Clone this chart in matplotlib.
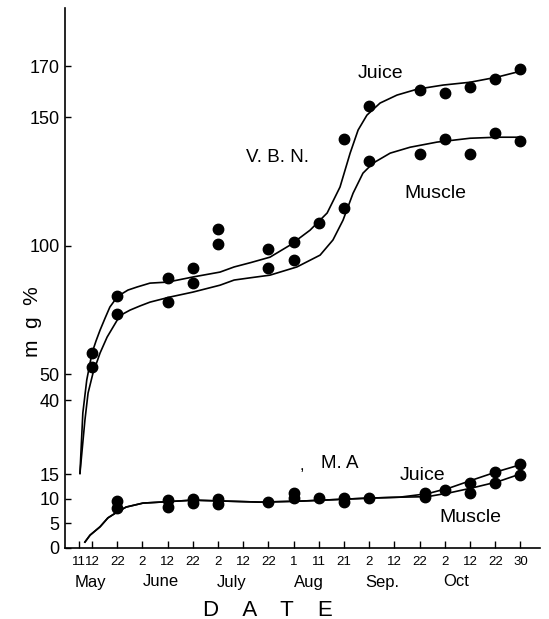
import numpy as np
import matplotlib
matplotlib.use("Agg")
import matplotlib.pyplot as plt
from matplotlib.transforms import blended_transform_factory

plt.rcParams['font.family'] = ['Liberation Sans', 'DejaVu Sans']

# date axis: day of year for each tick, with its label
tick_days = [131, 132, 142, 153, 163, 173, 183, 193, 203, 213, 223, 233, 245, 255, 265, 275, 285, 295, 303]
tick_labels = ["11", "12", "22", "2", "12", "22", "2", "12", "22", "1", "11", "21", "2", "12", "22", "2", "12", "22", "30"]
months = ["May", "June", "July", "Aug", "Sep.", "Oct"]
month_days = [131.9, 160.2, 188.6, 219, 250, 279.4]

# V.B.N. measured points (mg %)
vbn_juice_days = [132, 142, 163, 173, 183, 203, 213, 223, 233, 245, 265, 275, 285, 295, 303]
vbn_juice = [58.3, 80.5, 87.5, 91.4, 106.5, 98.8, 101.5, 108.9, 141.6, 154.4, 160.6, 159.5, 161.8, 164.9, 168.8]
vbn_muscle_days = [132, 142, 163, 173, 183, 203, 213, 233, 245, 265, 275, 285, 295, 303]
vbn_muscle = [52.8, 73.5, 78.1, 85.5, 100.7, 91.4, 94.5, 114.7, 133.0, 135.7, 141.6, 135.7, 143.9, 140.8]

# V.B.N. hand-drawn curves
vbn_juice_curve_days = [131.08, 131.3, 131.6, 132, 133.6, 135.2, 137.2, 139.1, 141.1, 143.2, 146.7, 150.7,
                        156, 163, 173.1, 183.8, 189.4, 196, 203.6, 211.6, 219.5, 226.3, 231.4, 235.9,
                        239.7, 243.9, 249.3, 256, 264, 274.3, 285, 295.6, 303]
vbn_juice_curve = [15.2, 35.6, 47.8, 58.3, 63.0, 67.2, 71.9, 76.2, 78.9, 80.9, 82.8, 84.0,
                   85.5, 85.9, 87.9, 89.8, 91.8, 93.5, 95.6, 100.3, 106.1, 112.8, 122.9, 136.1,
                   145.1, 150.9, 155.6, 158.7, 161.0, 162.6, 163.7, 165.7, 168.0]
vbn_muscle_curve_days = [131.08, 131.46, 131.7, 132.4, 135.2, 138, 142, 144.5, 147.6, 151.9, 156, 164,
                         173, 183.8, 189.4, 196, 203.6, 214.3, 223.5, 228.6, 232.6, 237.3, 242, 246.5,
                         253.3, 261.2, 271.9, 285, 295.6, 303]
vbn_muscle_curve = [15.2, 33.2, 42.7, 50.5, 58.3, 64.5, 71.1, 73.5, 75.0, 76.6, 78.1, 80.1,
                    82.0, 84.7, 86.7, 87.6, 88.6, 91.8, 96.4, 102.3, 110.0, 120.5, 128.3, 132.2,
                    136.1, 138.4, 140.4, 141.9, 142.3, 142.3]

# M.A measured points
ma_juice_days = [142, 163, 173, 183, 203, 213, 223, 233, 245, 267, 275, 285, 295, 303]
ma_juice = [9.5, 9.7, 9.9, 9.9, 9.3, 11.2, 10.1, 10.1, 10.1, 11.2, 11.8, 13.2, 15.6, 18.3]
ma_muscle_days = [142, 163, 173, 183, 213, 233, 267, 285, 295, 303]
ma_muscle = [8.1, 8.3, 9.1, 8.9, 10.1, 9.3, 10.3, 11.2, 13.2, 14.8]

# M.A curves
ma_juice_curve_days = [131.46, 131.85, 135.2, 138.3, 142, 145.9, 153.2, 160, 173, 199.7, 215.5, 244, 257,
                       268, 277, 286, 295.6, 303.5]
ma_juice_curve = [1.2, 2.6, 4.3, 6.1, 7.3, 8.3, 9.1, 9.3, 9.7, 9.3, 9.5, 10.1, 10.3,
                  11.0, 12.2, 13.8, 15.8, 18.3]
ma_muscle_curve_days = [131.46, 131.85, 135.2, 138.3, 142, 145.9, 153.2, 160, 173, 199.7, 215.5, 244, 257,
                        268, 277, 286, 295.6, 303.5]
ma_muscle_curve = [1.2, 2.6, 4.3, 6.1, 7.3, 8.3, 9.1, 9.3, 9.7, 9.3, 9.5, 10.1, 10.3,
                   10.4, 11.2, 12.2, 13.4, 15.2]

y_ticks = [0, 5, 10, 15, 40, 50, 100, 150, 170]

# piecewise-linear axes (the original paper spaces ticks unevenly)
tick_pos = [0.48] + list(range(1, 19))
xk_day = np.array([100] + tick_days + [340], dtype=float)
xk_pos = np.array([0.48 - 31 * 0.52] + tick_pos + [18 + 37 / 8.0], dtype=float)
yk_val = np.array([-10, 0, 15, 40, 200], dtype=float)
yk_pos = np.array([-49.3, 0, 74, 148, 148 + 160 * 2.569])


def xf(x):
    return np.interp(x, xk_day, xk_pos)


def xi(x):
    return np.interp(x, xk_pos, xk_day)


def yf(y):
    return np.interp(y, yk_val, yk_pos)


def yi(y):
    return np.interp(y, yk_pos, yk_val)


W, H = 549, 619
fig = plt.figure(figsize=(W / 100, H / 100), dpi=100)
ax = fig.add_axes([65 / W, 1 - 548 / H, 475 / W, 540 / H])
ax.set_xscale('function', functions=(xf, xi))
ax.set_yscale('function', functions=(yf, yi))

lw = 1.2
for d, v in [(vbn_juice_curve_days, vbn_juice_curve), (vbn_muscle_curve_days, vbn_muscle_curve),
             (ma_juice_curve_days, ma_juice_curve), (ma_muscle_curve_days, ma_muscle_curve)]:
    ax.plot(d, v, color="black", lw=lw, solid_joinstyle="round")

ms = 7.5
for d, v in [(vbn_juice_days, vbn_juice), (vbn_muscle_days, vbn_muscle),
             (ma_juice_days, ma_juice), (ma_muscle_days, ma_muscle)]:
    ax.plot(d, v, "o", color="black", markersize=ms, linestyle="none")

ax.set_xlim(129.94, 309.2)
ax.set_ylim(0, 192.6)

ax.set_xticks(tick_days)
ax.set_xticklabels(tick_labels)
ax.set_yticks(y_ticks)
ax.set_yticklabels([str(t) for t in y_ticks])
ax.xaxis.set_minor_locator(matplotlib.ticker.NullLocator())
ax.yaxis.set_minor_locator(matplotlib.ticker.NullLocator())
ax.tick_params(axis="x", direction="in", length=5, width=1, labelsize=9.5, pad=6)
ax.tick_params(axis="y", direction="in", length=4, width=1, labelsize=13, pad=4)
for s in ["top", "right"]:
    ax.spines[s].set_visible(False)
for s in ["left", "bottom"]:
    ax.spines[s].set_linewidth(1.2)

# month row under the ticks
tr = blended_transform_factory(ax.transData, fig.transFigure)
for m, d in zip(months, month_days):
    ax.text(d, 1 - 582 / H, m, transform=tr, ha="center", va="center", fontsize=12, clip_on=False)


def px_text(x, y, s, **kw):
    fig.text(x / W, 1 - y / H, s, ha="center", va="center", **kw)


px_text(380, 74, "Juice", fontsize=14)
px_text(278, 157, "V. B. N.", fontsize=13.5)
px_text(435, 193, "Muscle", fontsize=14)
px_text(302, 465, ",", fontsize=12)
px_text(340, 463, "M. A", fontsize=13.5)
px_text(423, 475, "Juice", fontsize=14)
px_text(470, 517, "Muscle", fontsize=14)
px_text(268, 610, "D    A    T    E", fontsize=16)
px_text(32, 322, "m  g  %", fontsize=15, rotation=90)

fig.savefig("out.png", dpi=100)
